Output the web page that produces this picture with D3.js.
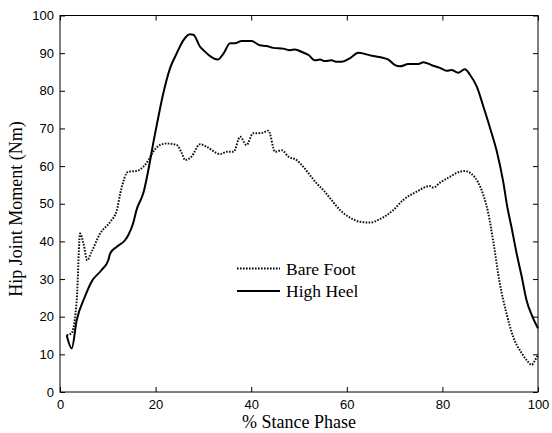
<!DOCTYPE html>
<html><head><meta charset="utf-8">
<script src="https://cdn.jsdelivr.net/npm/d3@7"></script>
<style>body{margin:0;background:#fff}</style>
</head><body><svg id="c" width="552" height="433"></svg>
<script>
const xTicks=[0,20,40,60,80,100];
const yTicks=[0,10,20,30,40,50,60,70,80,90,100];
const seriesNames=["Bare Foot","High Heel"];
const highHeelX=[1.4,2.45,3.5,5.2,6.6,8.7,10.1,10.5,11.9,13.6,14.3,15.3,16.0,17.4,19.9,21.6,23.0,24.4,25.8,27.2,27.9,29.3,30,31.4,33,34.2,35.6,36.6,38,40.1,41.8,43.2,44.6,46.7,48.1,49.2,50.6,52,53.3,54.4,55.4,56.8,57.9,58.9,60.7,62.4,63.8,65.2,67.1,68.7,70.1,71.1,72.9,75,76,77.8,79.5,80.9,81.9,83.3,84.7,85.8,87.2,88.6,90,91.4,92.7,93.6,94.5,95.5,96.6,97.6,98.7,100];
const highHeelY=[15.1,11.6,19.1,25.3,29.3,32.4,35,36.8,38.6,40.3,41.7,44.8,48.3,52.7,68.7,79.3,85.9,89.9,93.4,95.0,94.9,91.7,90.8,89.2,88.3,89.9,92.6,92.6,93.2,93.2,92.1,91.9,91.4,91.2,90.8,91.0,90.3,89.5,88.1,88.3,87.9,88.1,87.7,87.7,88.7,90.1,89.8,89.3,88.9,88.3,86.8,86.5,87.1,87.1,87.6,86.8,86.1,85.3,85.5,84.8,85.7,84.2,81.1,75.7,70,63.8,56,49,43.5,37,30.6,24.4,20.4,16.9];
const bareFootX=[1.4,2.4,3.5,4.2,4.9,5.7,6.6,8.4,10.5,11.9,12.6,14.3,16,17.4,18.5,19.5,20.9,22.3,24.4,25.5,26.2,27.5,29.3,30.7,33.5,34.9,36.3,37.7,39,40.4,42.2,43.6,45,46.4,47.8,49.5,50.9,52.3,53.7,55.1,56.8,58.6,60.7,62.8,64.9,66.9,69.7,71.8,74.6,77.4,78.1,79.5,81.6,83.7,84.7,86.1,87.5,88.6,89.6,90.7,92,93.4,94.8,96.6,97.6,98.7,99.4,100];
const bareFootY=[15.1,15.6,24.4,42.1,39.5,35,37.2,42.1,45.2,48.3,52.7,58.5,58.7,59.8,61.6,63.8,65.6,66,65.6,63.4,61.6,62.5,65.8,65.1,63.2,63.8,63.8,67.8,65.6,68.7,68.8,69.4,63.8,64.2,62.5,61.6,59.8,57.6,55.4,53.6,51,48.3,46.3,45.2,45.0,45.9,48.3,51,53.2,54.7,54.3,55.6,57.2,58.5,58.7,57.9,55.6,52.2,47.5,39.5,28.9,20.9,14.7,10.3,8.5,7.2,8.5,9.8];

const W=552,H=433,m={l:60,r:14,t:15.5,b:41};
const svg=d3.select("#c");
const x=d3.scaleLinear().domain([0,100]).range([m.l,W-m.r]);
const y=d3.scaleLinear().domain([0,100]).range([H-m.b,m.t]);
const tk=5;
const g=svg.append("g");
g.append("rect").attr("x",x(0)).attr("y",y(100)).attr("width",x(100)-x(0)).attr("height",y(0)-y(100)).attr("fill","none").attr("stroke","#000").attr("stroke-width",1);
const sans="'Liberation Sans',Arial,sans-serif", serif="'Liberation Serif','Times New Roman',serif";
const xa=svg.append("g").attr("transform",`translate(0,${y(0)})`).call(d3.axisBottom(x).tickValues(xTicks).tickSizeInner(-tk).tickSizeOuter(0).tickPadding(8));
const ya=svg.append("g").attr("transform",`translate(${x(0)},0)`).call(d3.axisLeft(y).tickValues(yTicks).tickSizeInner(-tk).tickSizeOuter(0).tickPadding(6));
const xt=svg.append("g").attr("transform",`translate(0,${y(100)})`).call(d3.axisTop(x).tickValues(xTicks).tickSizeInner(-tk).tickSizeOuter(0).tickFormat(""));
const yr=svg.append("g").attr("transform",`translate(${x(100)},0)`).call(d3.axisRight(y).tickValues(yTicks).tickSizeInner(-tk).tickSizeOuter(0).tickFormat(""));
[xa,ya,xt,yr].forEach(a=>{a.select(".domain").remove();a.selectAll("line").attr("stroke","#000");a.selectAll("text").attr("font-family",sans).attr("font-size",13).attr("fill","#000");});

const line=d3.line().x(d=>x(d[0])).y(d=>y(d[1])).curve(d3.curveMonotoneX);
const bf=bareFootX.map((v,i)=>[v,bareFootY[i]]);
const hh=highHeelX.map((v,i)=>[v,highHeelY[i]]);
svg.append("path").attr("d",line(bf)).attr("fill","none").attr("stroke","#111").attr("stroke-width",2).attr("stroke-dasharray","1.6,1.4");
svg.append("path").attr("d",line(hh)).attr("fill","none").attr("stroke","#000").attr("stroke-width",2);

const lg=svg.append("g");
[[268.5,"1.6,1.4"],[291,null]].forEach((r,i)=>{
  const l=lg.append("line").attr("x1",237).attr("x2",280).attr("y1",r[0]).attr("y2",r[0]).attr("stroke","#000").attr("stroke-width",2);
  if(r[1]) l.attr("stroke-dasharray",r[1]);
  lg.append("text").attr("x",286).attr("y",r[0]+6).text(seriesNames[i]).attr("font-family",serif).attr("font-size",17.5).attr("fill","#000");
});
svg.append("text").attr("x",299).attr("y",428).attr("text-anchor","middle").attr("font-family",serif).attr("font-size",18).text("% Stance Phase");
svg.append("text").attr("transform",`translate(22,209) rotate(-90)`).attr("text-anchor","middle").attr("font-family",serif).attr("font-size",18).text("Hip Joint Moment (Nm)");
</script></body></html>
